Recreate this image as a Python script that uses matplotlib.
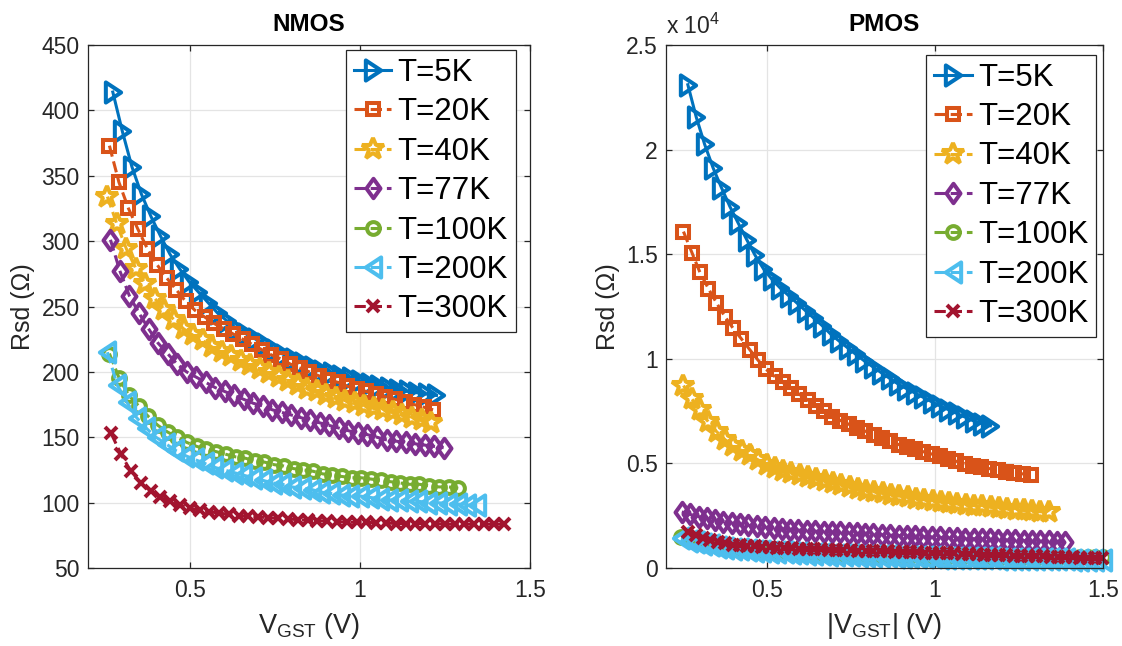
import matplotlib
matplotlib.use("Agg")
import matplotlib.pyplot as plt
from matplotlib.path import Path
from matplotlib.ticker import FixedLocator, FuncFormatter

plt.rcParams['font.family'] = ['Liberation Sans', 'DejaVu Sans']
plt.rcParams['mathtext.fontset'] = 'custom'
plt.rcParams['mathtext.rm'] = 'Liberation Sans'
plt.rcParams['mathtext.it'] = 'Liberation Sans:italic'
plt.rcParams['mathtext.bf'] = 'Liberation Sans:bold'

# ---------------- data ----------------
labels = ['T=5K', 'T=20K', 'T=40K', 'T=77K', 'T=100K', 'T=200K', 'T=300K']

# NMOS
n_x_5 = [0.273, 0.301, 0.329, 0.357, 0.385, 0.413, 0.441, 0.469, 0.497, 0.525, 0.553, 0.581,
         0.609, 0.637, 0.665, 0.693, 0.721, 0.749, 0.777, 0.805, 0.833, 0.861, 0.889, 0.917,
         0.945, 0.973, 1.001, 1.029, 1.057, 1.085, 1.113, 1.141, 1.169, 1.197, 1.225]
n_y_5 = [414, 384, 357, 336, 319, 304, 290, 279, 269, 261, 253, 245,
         239, 233, 229, 225, 221, 217, 213, 210, 207, 204, 201, 199,
         197, 195, 193, 191, 189, 188, 186, 185, 184, 183, 182]

n_x_20 = [0.263, 0.291, 0.319, 0.347, 0.375, 0.403, 0.431, 0.459, 0.487, 0.515, 0.543, 0.571,
          0.599, 0.627, 0.655, 0.683, 0.711, 0.739, 0.767, 0.795, 0.823, 0.851, 0.879, 0.907,
          0.935, 0.963, 0.991, 1.019, 1.047, 1.075, 1.103, 1.131, 1.159, 1.187, 1.215]
n_y_20 = [373, 345, 325, 309, 294, 282, 272, 263, 254, 247, 242, 237,
          233, 229, 225, 221, 217, 213, 210, 206, 203, 200, 197, 194,
          192, 189, 187, 185, 183, 181, 179, 177, 175, 173, 171]

n_x_40 = [0.257, 0.285, 0.313, 0.341, 0.369, 0.397, 0.425, 0.453, 0.481, 0.509, 0.537, 0.565,
          0.593, 0.621, 0.649, 0.677, 0.705, 0.733, 0.761, 0.789, 0.817, 0.845, 0.873, 0.901,
          0.929, 0.957, 0.985, 1.013, 1.041, 1.069, 1.097, 1.125, 1.153, 1.181, 1.209]
n_y_40 = [334, 313, 294, 279, 267, 256, 247, 240, 233, 228, 224, 219,
          215, 212, 208, 205, 202, 199, 196, 193, 190, 187, 185, 182,
          180, 178, 176, 174, 172, 171, 169, 167, 165, 163, 161]

n_x_77 = [0.266, 0.294, 0.322, 0.350, 0.378, 0.406, 0.434, 0.462, 0.490, 0.518, 0.546, 0.574,
          0.602, 0.630, 0.658, 0.686, 0.714, 0.742, 0.770, 0.798, 0.826, 0.854, 0.882, 0.910,
          0.938, 0.966, 0.994, 1.022, 1.050, 1.078, 1.106, 1.134, 1.162, 1.190, 1.218, 1.246]
n_y_77 = [301, 277, 258, 245, 233, 222, 214, 206, 200, 196, 192, 188,
          185, 182, 179, 176, 174, 171, 169, 167, 165, 163, 161, 159,
          157, 155, 153, 152, 150, 148, 147, 146, 145, 144, 143, 142]

n_x_100 = [0.263, 0.292, 0.320, 0.349, 0.377, 0.406, 0.434, 0.463, 0.491, 0.520, 0.548, 0.577,
           0.605, 0.634, 0.662, 0.691, 0.719, 0.748, 0.776, 0.805, 0.833, 0.862, 0.890, 0.919,
           0.947, 0.976, 1.004, 1.033, 1.061, 1.090, 1.118, 1.147, 1.175, 1.204, 1.232, 1.261, 1.289]
n_y_100 = [214, 195, 182, 174, 166, 159, 154, 150, 146, 143, 141, 139,
           137, 135, 134, 132, 131, 129, 128, 126, 125, 124, 122, 121,
           120, 119, 119, 118, 117, 116, 115, 114, 114, 113, 112, 112, 111]

n_x_200 = [0.257, 0.286, 0.314, 0.343, 0.371, 0.400, 0.429, 0.457, 0.486, 0.514, 0.543, 0.572,
           0.600, 0.629, 0.657, 0.686, 0.715, 0.743, 0.772, 0.800, 0.829, 0.858, 0.886, 0.915,
           0.943, 0.972, 1.001, 1.029, 1.058, 1.086, 1.115, 1.144, 1.172, 1.201, 1.229, 1.258,
           1.287, 1.315, 1.344]
n_y_200 = [215, 190, 177, 165, 157, 150, 145, 140, 136, 133, 130, 127,
           125, 123, 121, 119, 117, 115, 114, 112, 111, 110, 108, 107,
           106, 105, 105, 104, 103, 102, 102, 101, 101, 100, 100, 99,
           99, 98, 98]

n_x_300 = [0.268, 0.297, 0.326, 0.355, 0.384, 0.412, 0.441, 0.470, 0.499, 0.528, 0.557, 0.586,
           0.615, 0.644, 0.672, 0.701, 0.730, 0.759, 0.788, 0.817, 0.846, 0.874, 0.903, 0.932,
           0.961, 0.990, 1.019, 1.048, 1.077, 1.105, 1.134, 1.163, 1.192, 1.221, 1.250, 1.279,
           1.307, 1.336, 1.365, 1.394, 1.423]
n_y_300 = [153, 137, 124, 115, 109, 104, 101, 98, 96, 94, 93, 92,
           91, 90, 89.5, 89, 88.5, 88, 87.5, 87, 86.5, 86, 86, 85.5,
           85, 85, 85, 84.5, 84.5, 84, 84, 84, 84, 84, 83.5, 83.5,
           83.5, 83.5, 83.5, 83.5, 83.5]

# PMOS
p_x_5 = [0.265, 0.290, 0.315, 0.340, 0.365, 0.390, 0.415, 0.440, 0.465, 0.490, 0.515, 0.540,
         0.565, 0.590, 0.615, 0.640, 0.665, 0.690, 0.715, 0.740, 0.765, 0.790, 0.815, 0.840,
         0.865, 0.890, 0.915, 0.940, 0.965, 0.990, 1.015, 1.040, 1.065, 1.090, 1.115, 1.140, 1.165]
p_y_5 = [23100, 21550, 20250, 19130, 18180, 17280, 16480, 15700, 14950, 14300, 13800, 13380,
         13020, 12660, 12300, 11940, 11580, 11180, 10850, 10530, 10210, 9900, 9620, 9340,
         9070, 8800, 8580, 8370, 8160, 7950, 7750, 7570, 7390, 7210, 7030, 6900, 6800]

p_x_20 = [0.252, 0.277, 0.301, 0.326, 0.350, 0.375, 0.400, 0.424, 0.449, 0.473, 0.498, 0.523,
          0.547, 0.572, 0.596, 0.621, 0.646, 0.670, 0.695, 0.719, 0.744, 0.769, 0.793, 0.818,
          0.842, 0.867, 0.892, 0.916, 0.941, 0.965, 0.990, 1.015, 1.039, 1.064, 1.088, 1.113,
          1.138, 1.162, 1.187, 1.211, 1.236, 1.261, 1.285]
p_y_20 = [16080, 15080, 14130, 13360, 12680, 12020, 11450, 10960, 10440, 9950, 9490, 9160,
          8870, 8590, 8310, 8040, 7760, 7490, 7240, 7050, 6870, 6700, 6540, 6380,
          6230, 6070, 5900, 5780, 5670, 5560, 5450, 5330, 5210, 5100, 4990, 4890,
          4820, 4750, 4680, 4610, 4550, 4500, 4450]

p_x_40 = [0.252, 0.277, 0.301, 0.326, 0.351, 0.376, 0.400, 0.425, 0.450, 0.474, 0.499, 0.524,
          0.548, 0.573, 0.598, 0.623, 0.647, 0.672, 0.697, 0.721, 0.746, 0.771, 0.795, 0.820,
          0.845, 0.870, 0.894, 0.919, 0.944, 0.968, 0.993, 1.018, 1.042, 1.067, 1.092, 1.117,
          1.141, 1.166, 1.191, 1.215, 1.240, 1.265, 1.289, 1.314, 1.339]
p_y_40 = [8720, 8080, 7540, 6980, 6510, 6130, 5850, 5610, 5380, 5170, 4930, 4780,
          4660, 4530, 4440, 4340, 4240, 4140, 4050, 3960, 3870, 3780, 3700, 3640,
          3570, 3500, 3430, 3380, 3320, 3260, 3200, 3150, 3100, 3060, 3020, 2980,
          2940, 2900, 2860, 2820, 2790, 2750, 2720, 2690, 2660]

p_x_77 = [0.247, 0.272, 0.297, 0.321, 0.346, 0.371, 0.396, 0.421, 0.445, 0.470, 0.495, 0.520,
          0.545, 0.569, 0.594, 0.619, 0.644, 0.669, 0.693, 0.718, 0.743, 0.768, 0.793, 0.817,
          0.842, 0.867, 0.892, 0.917, 0.941, 0.966, 0.991, 1.016, 1.041, 1.065, 1.090, 1.115,
          1.140, 1.165, 1.189, 1.214, 1.239, 1.264, 1.289, 1.313, 1.338, 1.363, 1.388]
p_y_77 = [2680, 2560, 2460, 2380, 2300, 2220, 2150, 2090, 2040, 1990, 1950, 1910,
          1870, 1840, 1810, 1790, 1760, 1740, 1720, 1700, 1670, 1650, 1630, 1610,
          1590, 1570, 1550, 1530, 1510, 1490, 1480, 1460, 1440, 1430, 1410, 1400,
          1380, 1370, 1360, 1340, 1330, 1310, 1300, 1280, 1270, 1250, 1240]

p_x_100 = [0.245, 0.267, 0.289, 0.311, 0.333, 0.355, 0.377, 0.399, 0.421, 0.443, 0.465, 0.487,
           0.509, 0.531, 0.553, 0.575, 0.597, 0.619, 0.641, 0.663, 0.685, 0.707, 0.729, 0.751,
           0.773, 0.795, 0.817, 0.839, 0.861, 0.883, 0.905, 0.927, 0.949, 0.971, 0.993, 1.015,
           1.037, 1.059, 1.081, 1.103, 1.125, 1.147, 1.169, 1.191, 1.213, 1.235, 1.257, 1.279,
           1.301, 1.323, 1.345, 1.367, 1.389, 1.411, 1.433, 1.455, 1.477, 1.499]
p_y_100 = [1480, 1380, 1290, 1210, 1150, 1090, 1040, 1000, 960, 930, 900, 875,
           850, 830, 810, 790, 775, 760, 745, 730, 715, 700, 690, 680,
           670, 660, 650, 640, 630, 622, 615, 608, 600, 594, 588, 582,
           576, 571, 566, 561, 557, 553, 549, 545, 541, 538, 535, 532,
           529, 526, 524, 522, 520, 518, 516, 514, 512, 510]

p_x_200 = [0.245, 0.267, 0.289, 0.311, 0.333, 0.355, 0.377, 0.399, 0.421, 0.443, 0.465, 0.487,
           0.509, 0.531, 0.553, 0.575, 0.597, 0.619, 0.641, 0.663, 0.685, 0.707, 0.729, 0.751,
           0.773, 0.795, 0.817, 0.839, 0.861, 0.883, 0.905, 0.927, 0.949, 0.971, 0.993, 1.015,
           1.037, 1.059, 1.081, 1.103, 1.125, 1.147, 1.169, 1.191, 1.213, 1.235, 1.257, 1.279,
           1.301, 1.323, 1.345, 1.367, 1.389, 1.411, 1.433, 1.455, 1.477, 1.499]
p_y_200 = [1420, 1310, 1220, 1140, 1080, 1020, 970, 930, 890, 860, 830, 805,
           785, 765, 745, 725, 705, 690, 675, 660, 645, 630, 620, 605,
           595, 585, 575, 565, 555, 545, 540, 530, 520, 515, 505, 500,
           495, 485, 480, 475, 470, 462, 456, 450, 445, 440, 435, 430,
           425, 420, 416, 412, 408, 403, 398, 394, 390, 385]

p_x_300 = [0.266, 0.288, 0.310, 0.332, 0.354, 0.376, 0.398, 0.420, 0.442, 0.464, 0.486, 0.508,
           0.530, 0.552, 0.574, 0.596, 0.618, 0.640, 0.662, 0.684, 0.706, 0.728, 0.750, 0.772,
           0.794, 0.816, 0.838, 0.860, 0.882, 0.904, 0.926, 0.948, 0.970, 0.992, 1.014, 1.036,
           1.058, 1.080, 1.102, 1.124, 1.146, 1.168, 1.190, 1.212, 1.234, 1.256, 1.278, 1.300,
           1.322, 1.344, 1.366, 1.388, 1.410, 1.432, 1.454, 1.476, 1.498]
p_y_300 = [1700, 1560, 1440, 1330, 1250, 1180, 1120, 1080, 1050, 1030, 1010, 990,
           975, 960, 945, 930, 915, 900, 890, 880, 865, 855, 845, 830,
           820, 810, 800, 790, 780, 770, 760, 750, 740, 730, 720, 710,
           695, 685, 670, 660, 640, 625, 615, 605, 595, 585, 575, 565,
           555, 545, 535, 525, 515, 500, 490, 480, 470]

nmos_x = [n_x_5, n_x_20, n_x_40, n_x_77, n_x_100, n_x_200, n_x_300]
nmos_y = [n_y_5, n_y_20, n_y_40, n_y_77, n_y_100, n_y_200, n_y_300]
pmos_x = [p_x_5, p_x_20, p_x_40, p_x_77, p_x_100, p_x_200, p_x_300]
pmos_y = [p_y_5, p_y_20, p_y_40, p_y_77, p_y_100, p_y_200, p_y_300]

nmos_yticks = [50, 100, 150, 200, 250, 300, 350, 400, 450]
pmos_yticks = [0, 5000, 10000, 15000, 20000, 25000]
xticks = [0.5, 1.0, 1.5]

# ---------------- style ----------------
colors = ['#0072BD', '#D95319', '#EDB120', '#7E2F8E', '#77AC30', '#4DBEEE', '#A2142F']
CL = [Path.MOVETO, Path.LINETO, Path.LINETO, Path.CLOSEPOLY]
tri_r = Path([(-0.38, -0.5), (0.38, 0.0), (-0.38, 0.5), (-0.38, -0.5)], CL)
tri_l = Path([(0.38, -0.5), (-0.38, 0.0), (0.38, 0.5), (0.38, -0.5)], CL)
diam = Path([(0.0, -0.5), (0.36, 0.0), (0.0, 0.5), (-0.36, 0.0), (0.0, -0.5)],
            [Path.MOVETO, Path.LINETO, Path.LINETO, Path.LINETO, Path.CLOSEPOLY])
markers = [tri_r, 's', '*', diam, 'o', tri_l, 'x']
msizes = [14.5, 8.6, 16.5, 14, 9.2, 14.5, 9]
lstyles = ['-', '--', '--', '--', '--', '--', '--']
LW = 2.2
MEW = 2.9
DARK = '#262626'

fig = plt.figure(figsize=(11.22, 6.46), dpi=100)
W, H = 1122, 646
ax1 = fig.add_axes([88 / W, 1 - 568 / H, (530 - 88) / W, (568 - 45) / H])
ax2 = fig.add_axes([666 / W, 1 - 568 / H, (1103 - 666) / W, (568 - 45) / H])


def draw(ax, xs, ys):
    for i in range(len(xs)):
        ax.plot(xs[i], ys[i], linestyle=lstyles[i], color=colors[i], lw=LW,
                marker=markers[i], ms=msizes[i], mew=MEW, mfc='none',
                mec=colors[i], label=labels[i], clip_on=False)


draw(ax1, nmos_x, nmos_y)
draw(ax2, pmos_x, pmos_y)

for ax in (ax1, ax2):
    ax.set_xlim(0.2, 1.5)
    ax.xaxis.set_major_locator(FixedLocator(xticks))
    ax.xaxis.set_major_formatter(FuncFormatter(lambda v, p: ('%g' % v)))
    ax.grid(True, color='#e4e4e4', lw=0.9)
    ax.set_axisbelow(True)
    for s in ax.spines.values():
        s.set_color(DARK)
        s.set_linewidth(0.9)
    ax.tick_params(direction='in', length=4.5, width=0.9, colors=DARK,
                   top=True, right=True, labelsize=16.5)
    ax.tick_params(axis='x', pad=8)
    ax.tick_params(axis='y', pad=6)

ax1.set_ylim(50, 450)
ax1.yaxis.set_major_locator(FixedLocator(nmos_yticks))
ax2.set_ylim(0, 25000)
ax2.yaxis.set_major_locator(FixedLocator(pmos_yticks))
ax2.yaxis.set_major_formatter(FuncFormatter(lambda v, p: ('%g' % (v / 1e4))))
ax2.text(0.0, 1.012, r'x 10$^4$', transform=ax2.transAxes, ha='left', va='bottom',
         fontsize=16.5, color=DARK)

ax1.set_title('NMOS', fontsize=17.5, fontweight='bold', pad=10)
ax2.set_title('PMOS', fontsize=17.5, fontweight='bold', pad=10)

ax1.set_ylabel('Rsd (Ω)', fontsize=18, color=DARK)
ax2.set_ylabel('Rsd (Ω)', fontsize=18, color=DARK)
ax1.yaxis.set_label_coords(-0.12, 0.5)
ax2.yaxis.set_label_coords(-0.105, 0.5)
ax1.set_xlabel(r'V$_{\mathrm{GST}}$ (V)', fontsize=19.5, color=DARK)
ax2.set_xlabel(r'|V$_{\mathrm{GST}}$| (V)', fontsize=19.5, color=DARK)
ax1.xaxis.set_label_coords(0.5, -0.082)
ax2.xaxis.set_label_coords(0.5, -0.082)

leg_kw = dict(loc='upper right', fontsize=22.5, frameon=True, fancybox=False,
              framealpha=1, edgecolor=DARK, borderaxespad=0, borderpad=0.25,
              handlelength=1.2, handletextpad=0.2, labelspacing=0.3)
lg1 = ax1.legend(bbox_to_anchor=(0.968, 0.99), **leg_kw)
lg2 = ax2.legend(bbox_to_anchor=(0.984, 0.981), **leg_kw)
for lg in (lg1, lg2):
    lg.get_frame().set_linewidth(0.9)

fig.savefig('out.png', dpi=100)
